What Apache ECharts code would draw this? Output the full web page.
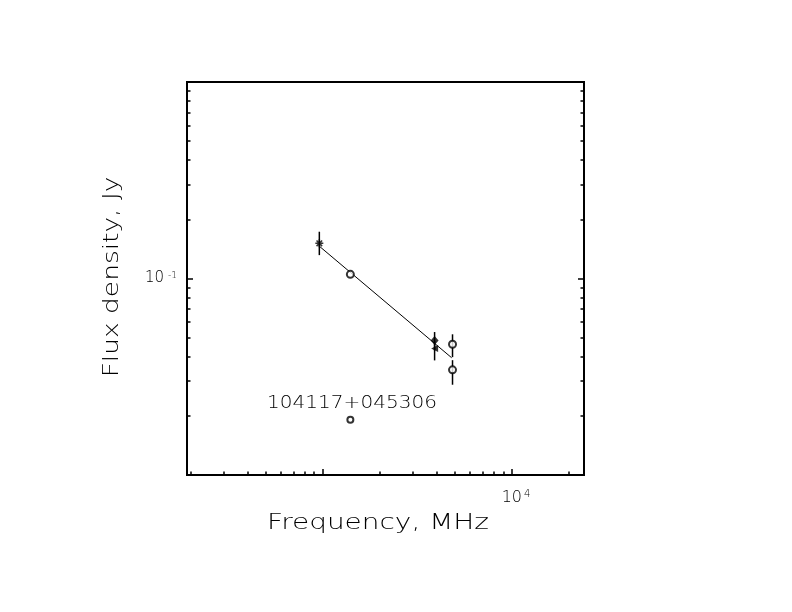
<!DOCTYPE html>
<html><head><meta charset="utf-8">
<script src="https://cdn.jsdelivr.net/npm/echarts@6/dist/echarts.min.js"></script>
<style>html,body{margin:0;padding:0;background:#fff}#c{width:792px;height:612px}</style>
</head><body><div id="c"></div>
<script>
// ---- data ----
const xMinorTicks = [200,300,400,500,600,700,800,900,2000,3000,4000,5000,6000,7000,8000,9000,20000];
const xMajorTicks = [1000,10000];
const xLabelTicks = [10000];
const yMinorTicks = [0.02,0.03,0.04,0.05,0.06,0.07,0.08,0.09,0.2,0.3,0.4,0.5,0.6,0.7,0.8,0.9];
const yMajorTicks = [0.1];
const yLabelTicks = [0.1];

const starPoints = [[960, 0.151]];
const circlePoints = [[1400, 0.105], [4850, 0.0463], [4850, 0.0343]];
const diamondPoints = [[3900, 0.0484]];
const trianglePoints = [[3900, 0.0440]];
const labelMarker = [[1400, 0.0191]];
const errorBars = [ // [freq, low, high]
  [960, 0.1315, 0.173],
  [3900, 0.0431, 0.0534],
  [3900, 0.0383, 0.0480],
  [4850, 0.0398, 0.0520],
  [4850, 0.0288, 0.0384]
];
const fitLine = [[960, 0.146], [4800, 0.0395]];
const sourceName = '104117+045306';

const X_MIN = 192, X_MAX = 24000, Y_MIN = 0.01, Y_MAX = 1;
const FONT = '"DejaVu Sans", sans-serif';

function xAxisDef(ticks, len, labels) {
  return {
    type: 'log', logBase: 10, min: X_MIN, max: X_MAX, position: 'bottom',
    axisLine: {show: false},
    splitLine: {show: false},
    axisTick: {show: true, inside: true, length: len, customValues: ticks, lineStyle: {color: '#000', width: 1.5}},
    axisLabel: labels ? {
      show: true, customValues: labels, margin: 14,
      formatter: v => '{b|10}{s|' + Math.round(Math.log10(v)) + '}',
      rich: {
        b: {fontFamily: FONT, fontWeight: 200, fontSize: 16, color: '#000', padding: [0, 0, 0, 8]},
        s: {fontFamily: FONT, fontWeight: 200, fontSize: 10, color: '#000', padding: [0, 0, 7, 2]}
      }
    } : {show: false}
  };
}
function yAxisDef(ticks, len, pos, labels) {
  return {
    type: 'log', logBase: 10, min: Y_MIN, max: Y_MAX, position: pos,
    axisLine: {show: false},
    splitLine: {show: false},
    axisTick: {show: true, inside: true, length: len, customValues: ticks, lineStyle: {color: '#000', width: 1.5}},
    axisLabel: labels ? {
      show: true, customValues: labels, margin: 10,
      formatter: v => '{b|10}{s|' + Math.round(Math.log10(v)) + '}',
      rich: {
        b: {fontFamily: FONT, fontWeight: 200, fontSize: 15, color: '#000'},
        s: {fontFamily: FONT, fontWeight: 200, fontSize: 9, color: '#000', padding: [0, 0, 5, 4]}
      }
    } : {show: false}
  };
}

const chart = echarts.init(document.getElementById('c'), null, {renderer: 'canvas'});
chart.setOption({
  backgroundColor: '#fff',
  animation: false,
  grid: {left: 187, top: 82, width: 397, height: 393, show: true, borderColor: '#000', borderWidth: 2, backgroundColor: 'transparent', outerBoundsMode: 'none'},
  xAxis: [
    xAxisDef(xMinorTicks, 3.5, xLabelTicks),
    xAxisDef(xMajorTicks, 6, null)
  ],
  yAxis: [
    yAxisDef(yMinorTicks, 3.5, 'left', yLabelTicks),
    yAxisDef(yMajorTicks, 6, 'left', null),
    yAxisDef(yMinorTicks, 3.5, 'right', null),
    yAxisDef(yMajorTicks, 6, 'right', null)
  ],
  series: [
    {type: 'line', data: fitLine, symbol: 'none', lineStyle: {color: '#000', width: 1}, z: 2},
    {type: 'custom', data: errorBars, encode: {x: 0, y: [1, 2]}, z: 3,
      renderItem: (params, api) => {
        const p1 = api.coord([api.value(0), api.value(1)]);
        const p2 = api.coord([api.value(0), api.value(2)]);
        return {type: 'line', shape: {x1: p1[0], y1: p1[1], x2: p2[0], y2: p2[1]}, style: {stroke: '#000', lineWidth: 1.5}};
      }},
    {type: 'scatter', data: circlePoints, symbol: 'circle', symbolSize: 7, z: 5,
      itemStyle: {color: '#fff', borderColor: '#000', borderWidth: 2}},
    {type: 'scatter', data: labelMarker, symbol: 'circle', symbolSize: 6, z: 5,
      itemStyle: {color: '#fff', borderColor: '#000', borderWidth: 2}},
    {type: 'scatter', data: starPoints, z: 5,
      symbol: 'path://M5,0L5,10M0,5L10,5M1.5,1.5L8.5,8.5M1.5,8.5L8.5,1.5', symbolSize: 8,
      itemStyle: {color: 'none', borderColor: '#000', borderWidth: 1.5}},
    {type: 'scatter', data: diamondPoints, symbol: 'diamond', symbolSize: [8, 9], z: 5,
      itemStyle: {color: '#000'}},
    {type: 'scatter', data: trianglePoints, symbol: 'triangle', symbolSize: 7, symbolRotate: 90, z: 5,
      itemStyle: {color: '#000'}}
  ],
  graphic: [
    {type: 'text', x: 378, y: 524, scaleX: 1.33,
      style: {text: 'Frequency, MHz', font: '200 21px ' + FONT, fill: '#000', align: 'center', verticalAlign: 'middle'}},
    {type: 'text', x: 113, y: 277, rotation: Math.PI / 2, scaleX: 1.26,
      style: {text: 'Flux density, Jy', font: '200 21px ' + FONT, fill: '#000', align: 'center', verticalAlign: 'middle'}},
    {type: 'text', x: 352, y: 404, scaleX: 1.18,
      style: {text: sourceName, font: '200 17px ' + FONT, fill: '#000', align: 'center', verticalAlign: 'middle'}}
  ]
});
</script>
</body></html>
